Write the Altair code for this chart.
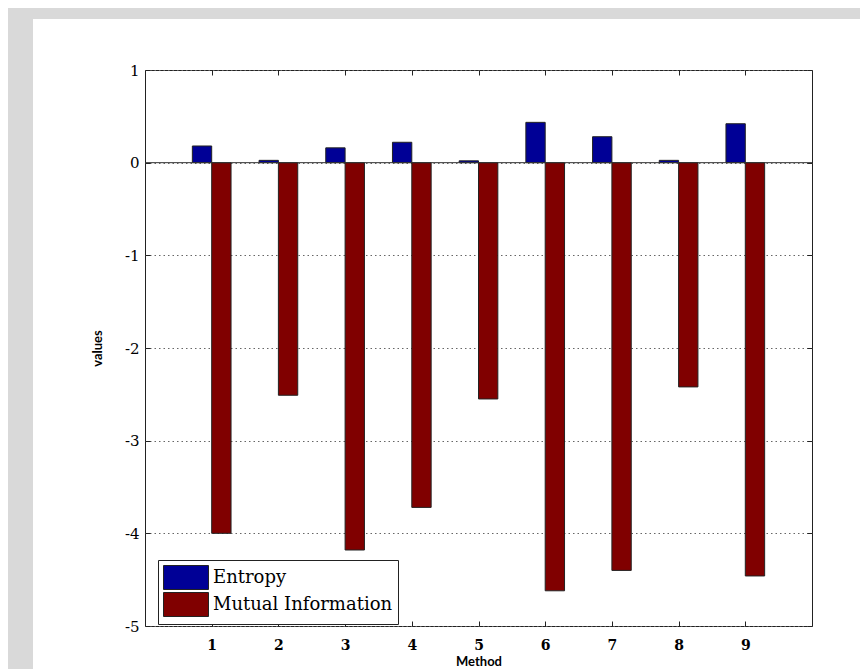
import altair as alt
import pandas as pd

# ---- data ----
methods = [1, 2, 3, 4, 5, 6, 7, 8, 9]
entropy = [0.18, 0.025, 0.16, 0.22, 0.02, 0.435, 0.28, 0.025, 0.42]
mutual_info = [-4.00, -2.51, -4.18, -3.72, -2.55, -4.62, -4.40, -2.42, -4.46]
series_names = ["Entropy", "Mutual Information"]
series_colors = ["#000096", "#800000"]
y_ticks = [-5, -4, -3, -2, -1, 0, 1]
x_ticks = methods

df = pd.DataFrame({
    "method": methods * 2,
    "value": entropy + mutual_info,
    "series": [series_names[0]] * len(methods) + [series_names[1]] * len(methods),
})
base_df = pd.DataFrame({"xa": [0], "xb": [10], "v": [0]})
one = pd.DataFrame({"a": [0]})

BAR_W = 0.29
xs = alt.Scale(domain=[0, 10], nice=False, zero=False)
ys = alt.Scale(domain=[-5, 1], nice=False, zero=False)

SERIF = "DejaVu Serif"
SANS = "Lato"
EDGE = "#222222"

# gray page strips (decoration)
strip_top = alt.Chart(one).mark_rect(color="#d9d9d9").encode(
    x=alt.value(-137), x2=alt.value(715), y=alt.value(-62), y2=alt.value(-51))
strip_left = alt.Chart(one).mark_rect(color="#d9d9d9").encode(
    x=alt.value(-137), x2=alt.value(-112), y=alt.value(-62), y2=alt.value(599))

bars = alt.Chart(df).transform_calculate(
    x0=f"datum.series === '{series_names[0]}' ? datum.method - {BAR_W} : datum.method"
).transform_calculate(
    x1=f"datum.x0 + {BAR_W}"
).mark_rect(stroke=EDGE, strokeWidth=1).encode(
    x=alt.X("x0:Q", scale=xs, axis=alt.Axis(
        orient="bottom", values=x_ticks, labelExpr="''+datum.value",
        labelFont=SERIF, labelFontSize=14, labelFontWeight="bold", labelColor="black",
        labelPadding=12, tickSize=5, tickColor=EDGE, offset=-5, domain=False, grid=False,
        title="Method", titleFont=SANS, titleFontSize=13, titleFontWeight="bold",
        titleColor="black", titlePadding=3)),
    x2="x1:Q",
    y=alt.Y("value:Q", scale=ys, axis=alt.Axis(
        orient="left", values=y_ticks, labelExpr="''+datum.value",
        labelFont=SERIF, labelFontSize=15, labelColor="black",
        labelPadding=6, tickSize=5, tickColor=EDGE, offset=-5, domain=False,
        grid=True, gridDash=[1.5, 3], gridColor="#666666", gridWidth=1,
        title="values", titleFont=SANS, titleFontSize=13, titleFontWeight="bold",
        titleColor="black", titlePadding=20)),
    y2=alt.datum(0),
    color=alt.Color("series:N", scale=alt.Scale(domain=series_names, range=series_colors),
                    legend=alt.Legend(
                        title=None, orient="none", legendX=13, legendY=490,
                        direction="vertical",
                        symbolType="M-1,-1H2.75V1H-1Z", symbolSize=576,
                        symbolStrokeColor=EDGE, symbolStrokeWidth=1, symbolOpacity=1,
                        labelFont=SERIF, labelFontSize=18, labelColor="black",
                        labelOffset=25, labelLimit=400, fillColor="white",
                        strokeColor=EDGE, padding=5, rowPadding=-5)),
)

baseline = alt.Chart(base_df).mark_rule(color="#333333", strokeWidth=1).encode(
    x=alt.X("xa:Q", scale=xs, axis=alt.Axis(
        orient="top", values=x_ticks, labels=False, tickSize=5, tickColor=EDGE,
        offset=-5, domain=False, grid=False, title=None)),
    x2="xb:Q",
    y=alt.Y("v:Q", scale=ys, axis=alt.Axis(
        orient="right", values=y_ticks, labels=False, tickSize=5, tickColor=EDGE,
        offset=-5, domain=False, grid=False, title=None)),
)

chart = alt.layer(strip_top, strip_left, bars, baseline).resolve_axis(
    x="independent", y="independent"
).properties(
    width=667, height=556,
    autosize=alt.AutoSizeParams(type="none"),
    padding={"left": 137, "top": 62, "right": 48, "bottom": 43},
    background="white",
).configure_view(stroke=EDGE, strokeWidth=1)

chart.save("out.html", embed_options={"renderer": "svg", "actions": False})
